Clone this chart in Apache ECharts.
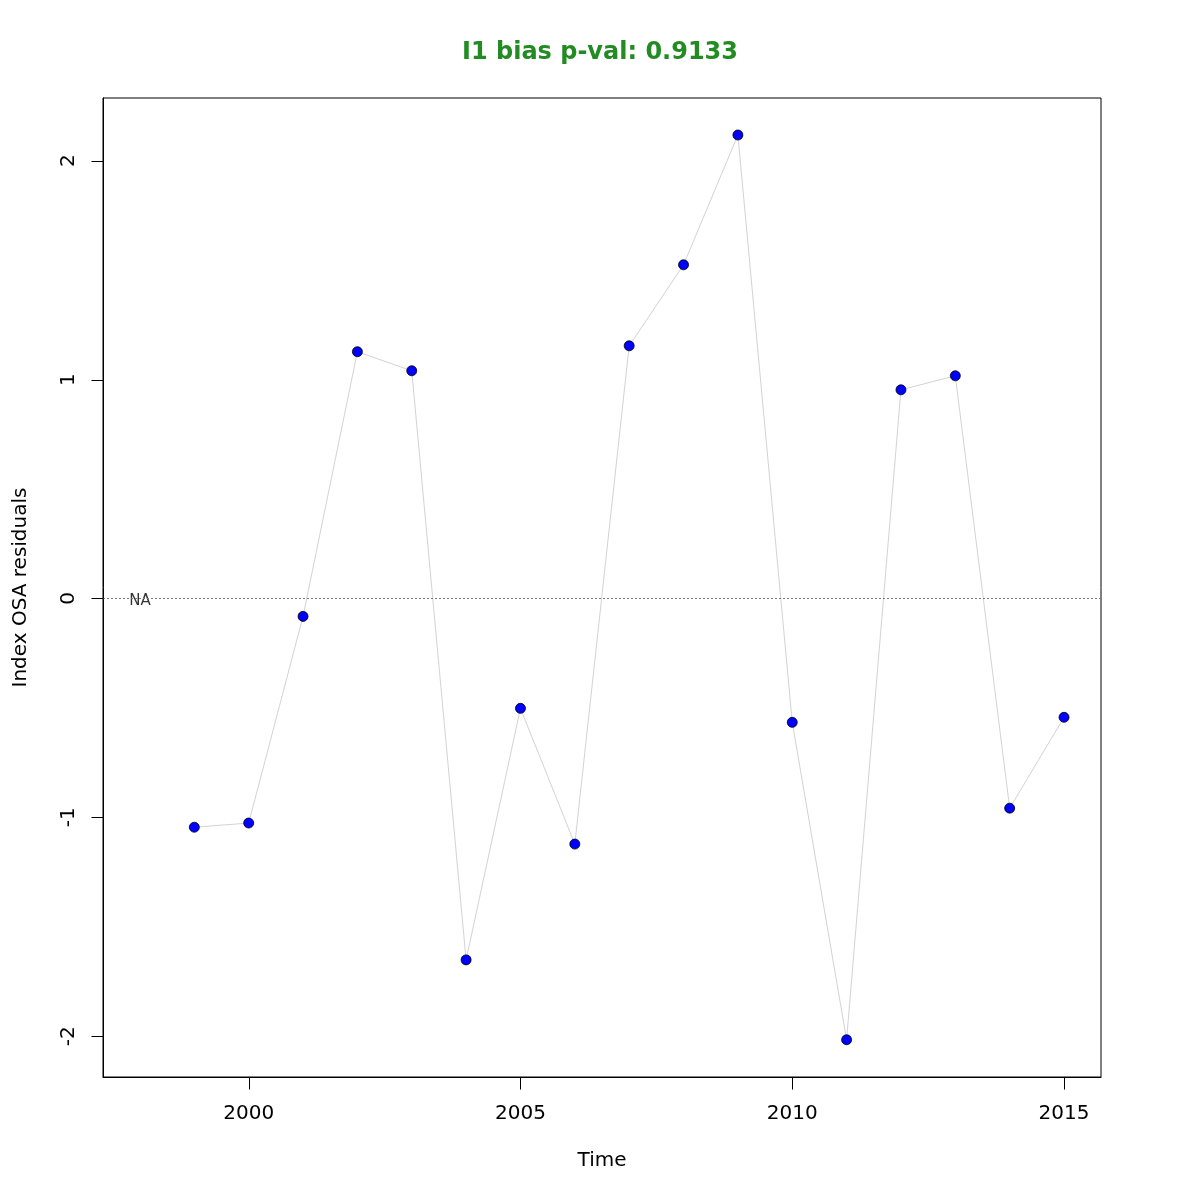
<!DOCTYPE html>
<html>
<head>
<meta charset="utf-8">
<script src="https://cdn.jsdelivr.net/npm/echarts@6/dist/echarts.min.js"></script>
<style>html,body{margin:0;padding:0;background:#fff}#c{width:1200px;height:1200px}</style>
</head>
<body>
<div id="c"></div>
<script>
const titleText = 'I1 bias p-val: 0.9133';
const years = [1999,2000,2001,2002,2003,2004,2005,2006,2007,2008,2009,2010,2011,2012,2013,2014,2015];
const residuals = [-1.045,-1.026,-0.082,1.127,1.040,-1.651,-0.502,-1.122,1.154,1.524,2.117,-0.566,-2.016,0.953,1.017,-0.958,-0.543];
const naYears = [1998];
const xTicks = [2000,2005,2010,2015];
const yTicks = [-2,-1,0,1,2];
const xRange = [1997.32, 2015.68];
const yRange = [-2.186, 2.286];

const FONT = 'DejaVu Sans';
const TICK = 12;
const tickData = xTicks.map(v => [v, yRange[0], 0]).concat(yTicks.map(v => [xRange[0], v, 1]));

const chart = echarts.init(document.getElementById('c'), null, {renderer:'canvas'});
chart.setOption({
  animation: false,
  backgroundColor: '#ffffff',
  title: {
    text: titleText, left: 'center', top: 36,
    textStyle: {fontFamily: FONT, fontSize: 24, fontWeight: 'bold', color: '#228B22'}
  },
  grid: {left: 103, right: 99, top: 98, bottom: 123, show: true, borderColor: '#000', borderWidth: 1},
  xAxis: {
    type: 'value', min: xRange[0], max: xRange[1],
    name: 'Time', nameLocation: 'middle', nameGap: 74,
    nameTextStyle: {fontFamily: FONT, fontSize: 20, color: '#000'},
    axisLine: {show: true, onZero: false, lineStyle: {color: '#000', width: 1}},
    splitLine: {show: false},
    axisTick: {show: false},
    axisLabel: {customValues: xTicks, margin: 27, fontFamily: FONT, fontSize: 20, color: '#000', formatter: v => String(v)}
  },
  yAxis: {
    type: 'value', min: yRange[0], max: yRange[1],
    name: 'Index OSA residuals', nameLocation: 'middle', nameGap: 72,
    nameTextStyle: {fontFamily: FONT, fontSize: 20, color: '#000'},
    axisLine: {show: true, onZero: false, lineStyle: {color: '#000', width: 1}},
    splitLine: {show: false},
    axisTick: {show: false},
    axisLabel: {customValues: yTicks, rotate: 90, margin: 24, fontFamily: FONT, fontSize: 20, color: '#000', formatter: v => String(v)}
  },
  series: [
    {
      type: 'line',
      data: years.map((y, i) => [y, residuals[i]]),
      lineStyle: {color: '#d3d3d3', width: 1},
      symbol: 'circle', symbolSize: 10,
      itemStyle: {color: '#0000ff', borderColor: '#000', borderWidth: 0.8},
      markLine: {
        silent: true, symbol: ['none','none'],
        label: {show: false},
        lineStyle: {color: '#777', type: [2, 2], width: 1},
        data: [{yAxis: 0}]
      }
    },
    {
      type: 'scatter',
      data: naYears.map(y => [y, 0]),
      symbolSize: 0,
      label: {show: true, position: 'inside', offset: [0, 3], formatter: 'NA', fontFamily: FONT, fontSize: 15, color: '#000', textBorderWidth: 0}
    },
    {
      type: 'custom',
      clip: false,
      silent: true,
      z: 10,
      data: tickData,
      encode: {x: 0, y: 1},
      renderItem: function (params, api) {
        const p = api.coord([api.value(0), api.value(1)]);
        const isY = api.value(2) === 1;
        const x = Math.round(p[0]) + 0.5, y = Math.round(p[1]) + 0.5;
        const shape = isY ? {x1: x - TICK, y1: y, x2: x, y2: y} : {x1: x, y1: y, x2: x, y2: y + TICK};
        return {type: 'line', shape: shape, style: {stroke: '#000', lineWidth: 1}};
      }
    }
  ]
});
</script>
</body>
</html>
